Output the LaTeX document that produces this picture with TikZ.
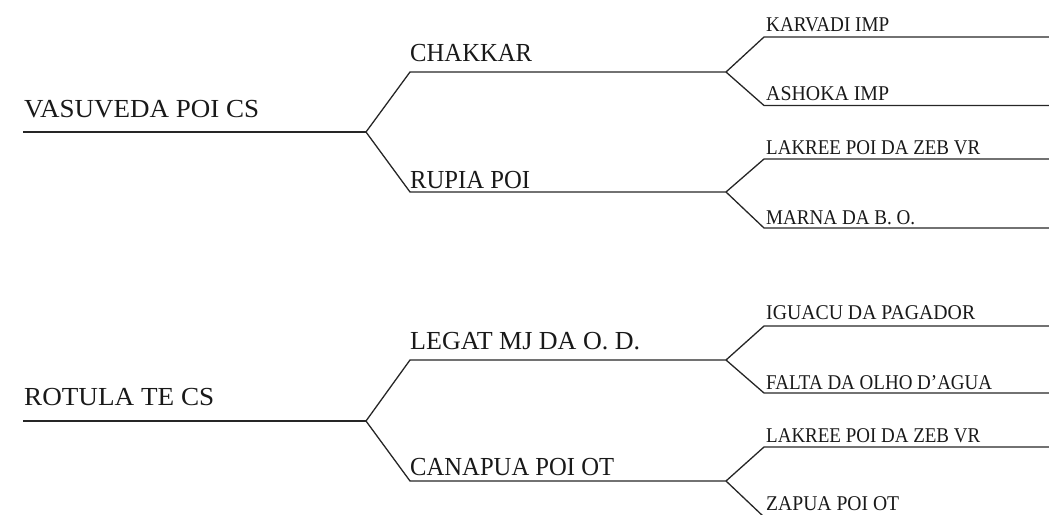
\documentclass[tikz,border=0pt]{standalone}
\usepackage{fontspec}
\usepackage{graphicx}
\setmainfont{Liberation Serif}
\newcommand{\fitto}[2]{\resizebox{#1pt}{\height}{#2}}
\begin{document}
\begin{tikzpicture}[x=1pt,y=-1pt,
  big/.style={anchor=base west,inner sep=0pt,font=\fontsize{26}{26}\selectfont,text=black!90},
  small/.style={anchor=base west,inner sep=0pt,font=\fontsize{21}{21}\selectfont,text=black!90},
  ln/.style={draw=black!85,line width=1.3pt,line join=miter}]
\useasboundingbox (0,0) rectangle (1049,514);
\clip (0,0) rectangle (1049,514);
% ---------- top tree ----------
\coordinate (r1s) at (23,132);   \coordinate (r1) at (366,132);
\coordinate (a1s) at (410,72);   \coordinate (a1) at (726,72);
\coordinate (a2s) at (410,192);  \coordinate (a2) at (726,192);
\coordinate (k1s) at (764,37);   \coordinate (k1e) at (1049,37);
\coordinate (k2s) at (764,105.5);\coordinate (k2e) at (1049,105.5);
\coordinate (k3s) at (764,159);  \coordinate (k3e) at (1049,159);
\coordinate (k4s) at (764,228);  \coordinate (k4e) at (1049,228);
\node[big] (vas) at (24,117) {\fitto{235}{VASUVEDA POI CS}};
\node[big] (cha) at (410,61) {\fitto{122}{CHAKKAR}};
\node[big] (rup) at (410,188) {\fitto{120}{RUPIA POI}};
\node[small] (kar) at (766,31) {\fitto{123}{KARVADI IMP}};
\node[small] (ash) at (766,100) {\fitto{123}{ASHOKA IMP}};
\node[small] (lak) at (766,154) {\fitto{214}{LAKREE POI DA ZEB VR}};
\node[small] (mar) at (766,224) {\fitto{149}{MARNA DA B. O.}};
\draw[ln] (r1s) -- (r1);
\draw[ln] (r1) -- (a1s) -- (a1);
\draw[ln] (r1) -- (a2s) -- (a2);
\draw[ln] (a1) -- (k1s) -- (k1e);
\draw[ln] (a1) -- (k2s) -- (k2e);
\draw[ln] (a2) -- (k3s) -- (k3e);
\draw[ln] (a2) -- (k4s) -- (k4e);
% ---------- bottom tree ----------
\coordinate (r2s) at (23,421);   \coordinate (r2) at (366,421);
\coordinate (b1s) at (410,360);  \coordinate (b1) at (726,360);
\coordinate (b2s) at (410,481);  \coordinate (b2) at (726,481);
\coordinate (m1s) at (764,326);  \coordinate (m1e) at (1049,326);
\coordinate (m2s) at (764,393);  \coordinate (m2e) at (1049,393);
\coordinate (m3s) at (764,447);  \coordinate (m3e) at (1049,447);
\coordinate (m4s) at (764,517);  \coordinate (m4e) at (1049,517);
\node[big] (rot) at (24,405.5) {\fitto{190}{ROTULA TE CS}};
\node[big] (leg) at (410,349) {\fitto{230}{LEGAT MJ DA O. D.}};
\node[big] (can) at (410,475) {\fitto{204}{CANAPUA POI OT}};
\node[small] (igu) at (766,319) {\fitto{209}{IGUACU DA PAGADOR}};
\node[small] (fal) at (766,389) {\fitto{226}{FALTA DA OLHO D’AGUA}};
\node[small] (lak2) at (766,442) {\fitto{214}{LAKREE POI DA ZEB VR}};
\node[small] (zap) at (766,510.5) {\fitto{133}{ZAPUA POI OT}};
\draw[ln] (r2s) -- (r2);
\draw[ln] (r2) -- (b1s) -- (b1);
\draw[ln] (r2) -- (b2s) -- (b2);
\draw[ln] (b1) -- (m1s) -- (m1e);
\draw[ln] (b1) -- (m2s) -- (m2e);
\draw[ln] (b2) -- (m3s) -- (m3e);
\draw[ln] (b2) -- (m4s) -- (m4e);
\end{tikzpicture}
\end{document}
